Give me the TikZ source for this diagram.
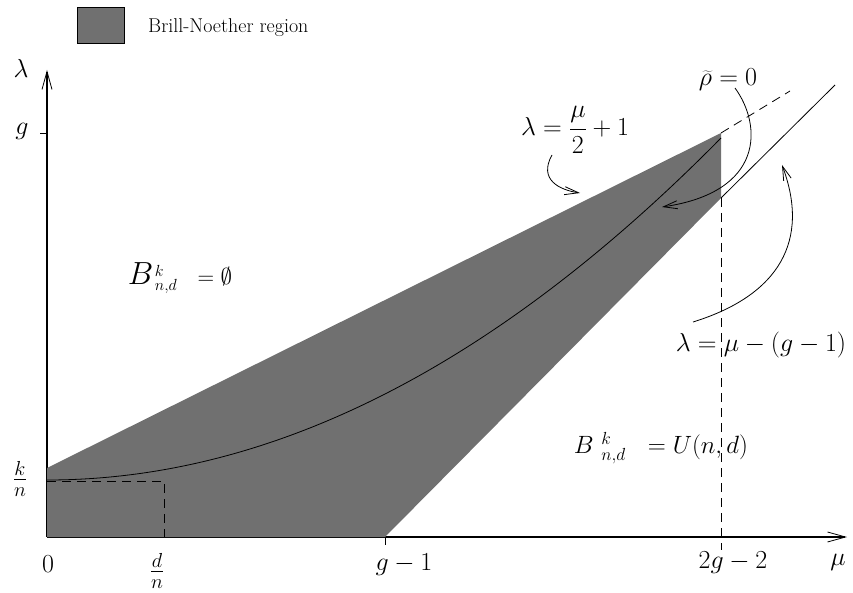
\RequirePackage{fix-cm}
\documentclass[tikz,border=0pt]{standalone}
\usetikzlibrary{arrows.meta}
\definecolor{bnfill}{RGB}{112,112,112}
\tikzset{
  axisline/.style={line width=1.6pt,-{Straight Barb[length=18pt,width=10pt,line width=0.8pt]}},
  thinline/.style={line width=0.8pt},
  dashline/.style={line width=0.8pt,dash pattern=on 9pt off 6pt},
  annarrow/.style={line width=0.8pt,-{Straight Barb[length=14pt,width=8pt,line width=0.8pt]}},
  mlabel/.style={inner sep=0pt,font=\fontsize{26}{30}\selectfont},
  flabel/.style={inner sep=0pt,font=\fontsize{29}{33}\selectfont},
}
\begin{document}
\begin{tikzpicture}[x=1pt,y=-1pt]
\path[use as bounding box] (0,0) rectangle (853,593);
% legend
\node[draw=black,line width=0.9pt,fill=bnfill,minimum width=47pt,minimum height=36pt,inner sep=0pt] (legbox) at (100.5,25) {};
\node[inner sep=0pt,anchor=west,font=\fontsize{20}{24}\selectfont] (legtext) at (148,28) {Brill-Noether region};
% axes
\coordinate (O) at (47,537);
\coordinate (ytop) at (47,70);
\coordinate (xend) at (847,537);
\draw[axisline] (O) -- (ytop);
\draw[axisline] (O) -- (xend);
% ticks
\coordinate (gt1) at (40,133);
\coordinate (gt2) at (47,133);
\draw[line width=0.8pt] (gt1) -- (gt2);
\coordinate (g1a) at (385,537);
\coordinate (g1b) at (385,545);
\draw[line width=0.8pt] (g1a) -- (g1b);
% region
\coordinate (A) at (47,468);
\coordinate (C) at (721,133);
\coordinate (D) at (721,198);
\coordinate (E) at (385,537);
\fill[bnfill] (O) -- (A) -- (C) -- (D) -- (E) -- cycle;
% rho curve (parabola as cubic)
\coordinate (rs) at (47,480);
\coordinate (re) at (721,138);
\draw[thinline] (rs) .. controls (271.7,480) and (496.3,366) .. (re);
% dashed helpers
\coordinate (kn) at (47,481);
\coordinate (dnk) at (164,481);
\coordinate (dn) at (164,537);
\draw[dashline] (kn) -- (dnk) -- (dn);
\coordinate (vb) at (721,550);
\draw[dashline] (D) -- (vb);
\coordinate (dext) at (790,91);
\draw[dashline] (C) -- (dext);
% line lambda = mu-(g-1)
\coordinate (ltop) at (835,85);
\draw[thinline] (D) -- (ltop);
% axis labels
\node[mlabel] (lam) at (21,68) {$\lambda$};
\node[mlabel] (mu) at (838,562) {$\mu$};
\node[mlabel] (gl) at (22,131) {$g$};
\node[flabel] (knl) at (20,479) {$\frac{k}{n}$};
\node[mlabel] (zero) at (48,564) {$0$};
\node[flabel] (dnl) at (157,571) {$\frac{d}{n}$};
\node[mlabel] (gm1) at (404,565) {$g-1$};
\node[mlabel] (tgm2) at (733,563) {$2g-2$};
% annotations
\node[mlabel] (l1) at (575,130) {$\displaystyle\lambda=\frac{\mu}{2}+1$};
\node[mlabel] (rho) at (728,80) {$\widetilde{\rho}=0$};
\node[mlabel] (l2) at (761,345) {$\lambda=\mu-(g-1)$};
\node[inner sep=0pt] (bempty) at (180,278) {{\fontsize{32}{36}\selectfont$B$}\,{\fontsize{23}{27}\selectfont$ {}^{k}_{n,d}\ \ =\emptyset$}};
\node[inner sep=0pt] (bu) at (661,448) {{\fontsize{25}{29}\selectfont$B\ {}^{k}_{n,d}\ \ = U(n,d)$}};
% annotation arrows
\coordinate (a1s) at (552,155);
\coordinate (a1e) at (580,193);
\draw[annarrow] (a1s) .. controls (538,180) and (560,190) .. (a1e);
\coordinate (a2s) at (735,88);
\coordinate (a2e) at (662,207);
\draw[annarrow] (a2s) .. controls (762,125) and (765,192) .. (a2e);
\coordinate (a3s) at (693,322);
\coordinate (a3e) at (782,165);
\draw[annarrow] (a3s) .. controls (780,295) and (810,240) .. (a3e);
\end{tikzpicture}
\end{document}
